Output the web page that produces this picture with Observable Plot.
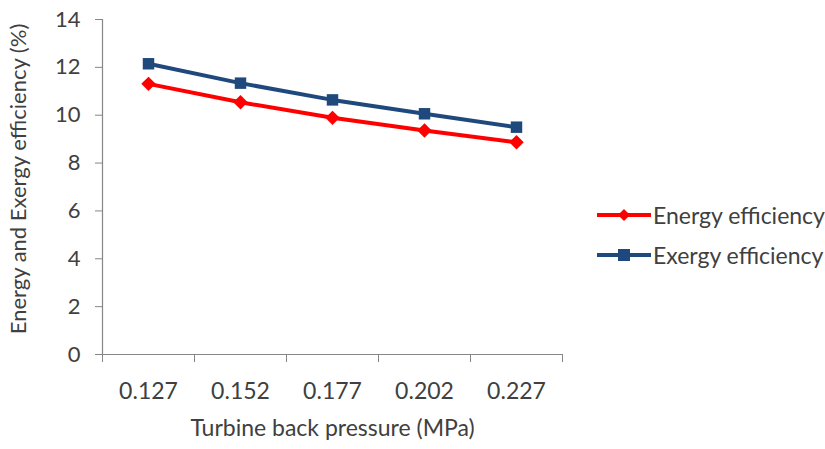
<!DOCTYPE html>
<html><head><meta charset="utf-8">
<script src="https://cdn.jsdelivr.net/npm/d3@7"></script>
<script src="https://cdn.jsdelivr.net/npm/@observablehq/plot@0.6"></script>
<style>
body{margin:0;background:#fff;font-family:Lato,"Open Sans",sans-serif;}
#wrap{position:relative;width:825px;height:449px;}
#legend{position:absolute;left:597px;top:195px;font-size:23px;color:#404040;}
.row{display:flex;align-items:center;height:40px;}
.row svg{margin-right:1px;}
</style></head>
<body><div id="wrap"><div id="legend"></div></div>
<script>
const categories = ["0.127","0.152","0.177","0.202","0.227"];
const energy = [11.31, 10.54, 9.89, 9.36, 8.87];
const exergy = [12.15, 11.34, 10.64, 10.06, 9.5];
const seriesNames = ["Energy efficiency","Exergy efficiency"];
const colors = ["#FF0000","#1F497D"];
const yTicks = [0,2,4,6,8,10,12,14];

const data = [];
categories.forEach((c,i)=>{
  data.push({i, cat:c, v:energy[i], s:seriesNames[0]});
  data.push({i, cat:c, v:exergy[i], s:seriesNames[1]});
});
const boundaries = d3.range(categories.length+1).map(k=>k-0.5);
const axisColor = "#868686";
const textColor = "#404040";

const chart = Plot.plot({
  width: 825, height: 449,
  marginLeft: 102, marginRight: 263, marginTop: 19, marginBottom: 95,
  style: {fontFamily: "Lato, 'Open Sans', sans-serif", fontSize: "22px", color: textColor, background: "#fff"},
  x: {type: "linear", domain: [-0.5, categories.length-0.5]},
  y: {domain: [0,14]},
  color: {domain: seriesNames, range: colors},
  marks: [
    Plot.axisY({ticks: yTicks, tickSize: 7, tickPadding: 15, stroke: axisColor, label: null, fill: textColor, fontSize: 22}),
    Plot.axisX({ticks: boundaries, tickSize: 8, tickFormat: () => "", stroke: axisColor, label: null}),
    Plot.axisX({ticks: d3.range(categories.length), tickSize: 0, tickPadding: 28, tickFormat: i => categories[i], label: null, fill: textColor, fontSize: 23}),
    Plot.ruleX([-0.5], {stroke: axisColor, strokeWidth: 1.2}),
    Plot.ruleY([0], {stroke: axisColor, strokeWidth: 1.2}),
    Plot.line(data, {x: "i", y: "v", z: "s", stroke: "s", strokeWidth: 4}),
    Plot.dot(data.filter(d=>d.s===seriesNames[0]), {x: "i", y: "v", symbol: "diamond2", r: 6.5, fill: colors[0], stroke: null}),
    Plot.dot(data.filter(d=>d.s===seriesNames[1]), {x: "i", y: "v", symbol: "square2", r: 7.3, fill: colors[1], stroke: null}),
    Plot.text(["Energy and Exergy efficiency (%)"], {frameAnchor: "left", textAnchor: "middle", dx: -84, dy: -8, rotate: -90, fontSize: 22, fill: textColor}),
    Plot.text(["Turbine back pressure (MPa)"], {frameAnchor: "bottom", textAnchor: "middle", dy: 81, fontSize: 23, fill: textColor})
  ]
});
document.getElementById("wrap").prepend(chart);

const leg = document.getElementById("legend");
seriesNames.forEach((n,k)=>{
  const row = document.createElement("div"); row.className="row";
  const shape = k===0
    ? `<polygon points="27,6 33,12 27,18 21,12" fill="${colors[0]}"/>`
    : `<rect x="21" y="6" width="12" height="12" fill="${colors[1]}"/>`;
  row.innerHTML = `<svg width="55" height="24"><line x1="0" x2="54" y1="12" y2="12" stroke="${colors[k]}" stroke-width="4"/>${shape}</svg><span>${n}</span>`;
  leg.appendChild(row);
});
</script></body></html>
